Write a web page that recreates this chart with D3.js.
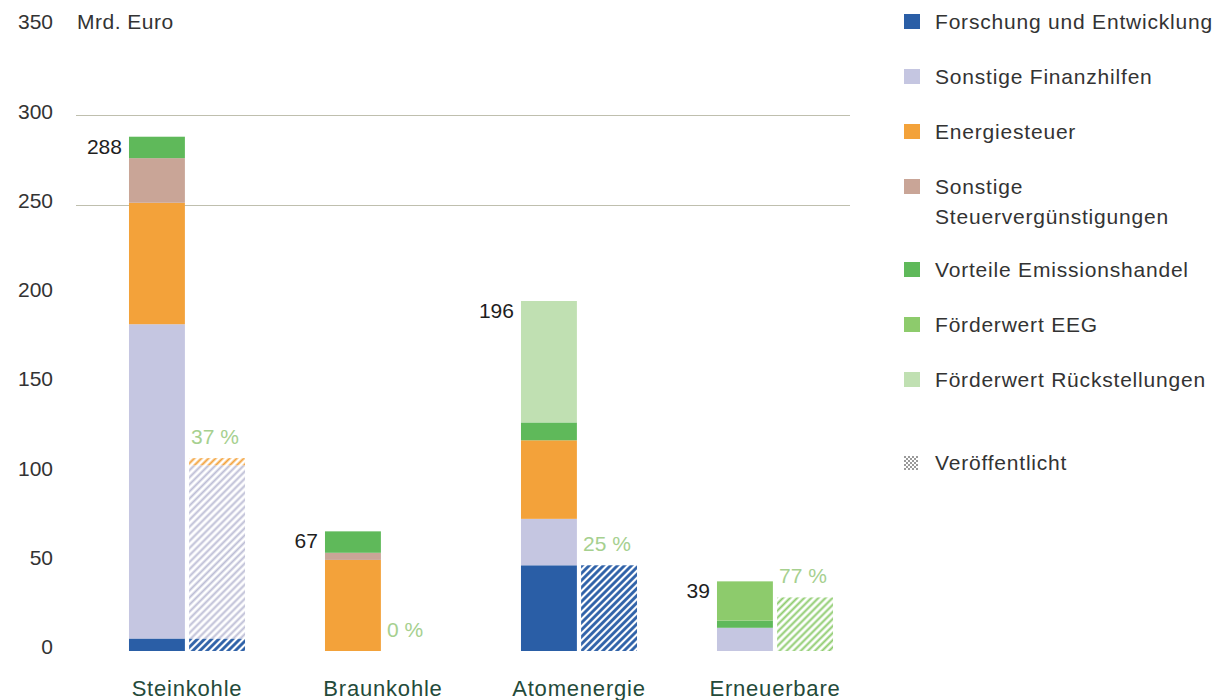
<!DOCTYPE html>
<html><head><meta charset="utf-8">
<script src="https://cdn.jsdelivr.net/npm/d3@7"></script>
<style>
body{margin:0;background:#fff}
svg{display:block;font-family:"Liberation Sans",Arial,Helvetica,sans-serif}
</style>
</head><body>
<svg id="chart" width="1218" height="700"></svg>
<script>
// ---- data ----
const categories = ["Steinkohle", "Braunkohle", "Atomenergie", "Erneuerbare"];
const seriesKeys = ["Forschung und Entwicklung", "Sonstige Finanzhilfen", "Energiesteuer",
  "Sonstige Steuervergünstigungen", "Vorteile Emissionshandel", "Förderwert EEG", "Förderwert Rückstellungen"];
const seriesColors = ["#2a5ea6", "#c5c6e1", "#f3a23a", "#c9a597", "#5fb95a", "#8dcb6c", "#c0e0b2"];

// total subsidies (Mrd. Euro) per category
const forschung      = [7, 0, 48, 0];
const finanzhilfen   = [176, 0, 26, 13];
const energiesteuer  = [68, 51, 44, 0];
const steuerverg     = [25, 4, 0, 0];
const emission       = [12, 12, 10, 4];
const eeg            = [0, 0, 0, 22];
const rueckstellung  = [0, 0, 68, 0];

// published part (Veröffentlicht)
const pubForschung     = [7, 0, 48, 0];
const pubFinanzhilfen  = [97, 0, 0, 0];
const pubEnergiesteuer = [4, 0, 0, 0];
const pubSteuerverg    = [0, 0, 0, 0];
const pubEmission      = [0, 0, 0, 0];
const pubEeg           = [0, 0, 0, 30];
const pubRueckstellung = [0, 0, 0, 0];

const totalLabels = ["288", "67", "196", "39"];
const publishedShare = ["37 %", "0 %", "25 %", "77 %"];
const yTicks = [0, 50, 100, 150, 200, 250, 300, 350];
const gridTicks = [250, 300];
const yUnit = "Mrd. Euro";
const legendLabels = [["Forschung und Entwicklung"], ["Sonstige Finanzhilfen"], ["Energiesteuer"],
  ["Sonstige", "Steuervergünstigungen"], ["Vorteile Emissionshandel"], ["Förderwert EEG"], ["Förderwert Rückstellungen"]];
const publishedLabel = "Veröffentlicht";

// ---- build rows ----
const totalSeries = [forschung, finanzhilfen, energiesteuer, steuerverg, emission, eeg, rueckstellung];
const pubSeries = [pubForschung, pubFinanzhilfen, pubEnergiesteuer, pubSteuerverg, pubEmission, pubEeg, pubRueckstellung];
function rows(arrs) {
  return categories.map((c, i) => {
    const r = {cat: c};
    seriesKeys.forEach((k, j) => r[k] = arrs[j][i]);
    return r;
  });
}
const totalRows = rows(totalSeries);
const pubRows = rows(pubSeries);
const stack = d3.stack().keys(seriesKeys);
const totalStack = stack(totalRows);
const pubStack = stack(pubRows);

// ---- scales ----
const svg = d3.select("#chart");
const fontSize = 21;
const y = d3.scaleLinear().domain([0, 350]).range([651, 26]);
const x0 = d3.scaleBand().domain(categories).range([89, 873]).paddingInner(0.408).paddingOuter(0.204);
const x1 = d3.scaleBand().domain(["total", "published"]).range([0, x0.bandwidth()]).paddingInner(0.07);
const color = d3.scaleOrdinal().domain(seriesKeys).range(seriesColors);

// ---- patterns ----
const defs = svg.append("defs");
seriesKeys.forEach((k, i) => {
  const p = defs.append("pattern").attr("id", "hatch" + i)
    .attr("patternUnits", "userSpaceOnUse").attr("width", 5).attr("height", 5)
    .attr("patternTransform", "rotate(45)");
  p.append("rect").attr("width", 5).attr("height", 5).attr("fill", "#fff");
  p.append("line").attr("x1", 1.5).attr("y1", 0).attr("x2", 1.5).attr("y2", 5)
    .attr("stroke", i === 1 ? "#bdbed6" : seriesColors[i]).attr("stroke-width", i === 0 ? 2.8 : 2.0);
});
const cross = defs.append("pattern").attr("id", "crosshatch")
  .attr("patternUnits", "userSpaceOnUse").attr("width", 4).attr("height", 4);
cross.append("rect").attr("width", 4).attr("height", 4).attr("fill", "#fff");
cross.append("rect").attr("width", 2).attr("height", 2).attr("fill", "#9a9a9a");
cross.append("rect").attr("x", 2).attr("y", 2).attr("width", 2).attr("height", 2).attr("fill", "#9a9a9a");

// ---- gridlines ----
svg.append("g").selectAll("line").data(gridTicks).join("line")
  .attr("x1", 76).attr("x2", 850)
  .attr("y1", d => Math.round(y(d)) + 0.5).attr("y2", d => Math.round(y(d)) + 0.5)
  .attr("stroke", "#bfbfae").attr("stroke-width", 1);

// ---- y axis ----
const yAxis = svg.append("g").attr("transform", "translate(53,0)")
  .call(d3.axisLeft(y).tickValues(yTicks).tickSize(0).tickPadding(0));
yAxis.select(".domain").remove();
yAxis.selectAll("text").attr("font-size", fontSize).attr("fill", "#333").attr("y", -4)
  .attr("font-family", "Liberation Sans, Arial, sans-serif");
svg.append("text").attr("x", 77).attr("y", y(350) - 4).attr("dy", "0.32em")
  .attr("font-size", fontSize).attr("letter-spacing", 0.5).attr("fill", "#333").text(yUnit);

// ---- bars ----
const gTotal = svg.append("g");
totalStack.forEach((s, i) => {
  gTotal.selectAll(null).data(s.filter(d => d[1] > d[0])).join("rect")
    .attr("x", d => x0(d.data.cat) + x1("total"))
    .attr("width", x1.bandwidth())
    .attr("y", d => y(d[1]))
    .attr("height", d => y(d[0]) - y(d[1]))
    .attr("fill", color(s.key));
});
const gPub = svg.append("g");
pubStack.forEach((s, i) => {
  gPub.selectAll(null).data(s.filter(d => d[1] > d[0])).join("rect")
    .attr("x", d => x0(d.data.cat) + x1("published"))
    .attr("width", x1.bandwidth())
    .attr("y", d => y(d[1]))
    .attr("height", d => y(d[0]) - y(d[1]))
    .attr("fill", "url(#hatch" + i + ")");
});

// ---- value labels ----
const totals = totalRows.map(r => d3.sum(seriesKeys, k => r[k]));
const pubTotals = pubRows.map(r => d3.sum(seriesKeys, k => r[k]));
svg.append("g").selectAll("text").data(categories).join("text")
  .attr("x", c => x0(c) + x1("total") - 7)
  .attr("y", (c, i) => y(totals[i]) + 17)
  .attr("text-anchor", "end").attr("font-size", fontSize).attr("fill", "#1e1e1e")
  .text((c, i) => totalLabels[i]);
svg.append("g").selectAll("text").data(categories).join("text")
  .attr("x", c => x0(c) + x1("published") + 2)
  .attr("y", (c, i) => y(pubTotals[i]) - 14)
  .attr("font-size", fontSize).attr("fill", "#a6d08f")
  .text((c, i) => publishedShare[i]);

// ---- category axis ----
const xAxis = svg.append("g").attr("transform", "translate(0,651)")
  .call(d3.axisBottom(x0).tickSize(0).tickPadding(29));
xAxis.select(".domain").remove();
xAxis.selectAll("text").attr("font-size", 22).attr("letter-spacing", 0.8).attr("fill", "#244a3a")
  .attr("font-family", "Liberation Sans, Arial, sans-serif");

// ---- legend ----
const legend = svg.append("g").attr("transform", "translate(904,0)");
let ly = 22;
legendLabels.forEach((lines, i) => {
  legend.append("rect").attr("x", 0).attr("y", ly - 8).attr("width", 16).attr("height", 15)
    .attr("fill", seriesColors[i]);
  lines.forEach((t, j) => {
    legend.append("text").attr("x", 31).attr("y", ly + j * 30).attr("dy", "0.35em")
      .attr("font-size", fontSize).attr("letter-spacing", 0.8).attr("fill", "#333").text(t);
  });
  ly += 55 + (lines.length - 1) * 28;
});
ly += 28;
legend.append("rect").attr("x", 0).attr("y", ly - 7).attr("width", 14).attr("height", 14)
  .attr("fill", "url(#crosshatch)");
legend.append("text").attr("x", 31).attr("y", ly).attr("dy", "0.35em")
  .attr("font-size", fontSize).attr("letter-spacing", 0.8).attr("fill", "#333").text(publishedLabel);
</script>
</body></html>
